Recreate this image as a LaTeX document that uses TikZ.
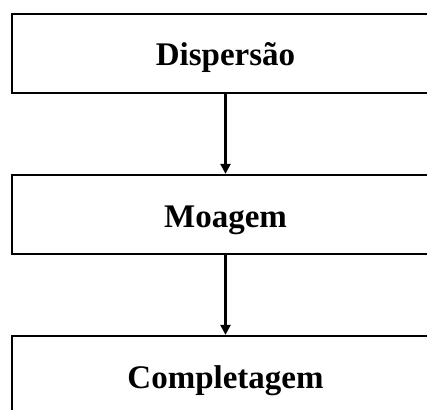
\documentclass[tikz,border=0pt]{standalone}
\usepackage{fontspec}
\setmainfont{Liberation Serif}
\usetikzlibrary{arrows.meta}
\begin{document}
\begin{tikzpicture}[x=1pt,y=1pt,
  stepbox/.style={draw=black,line width=2.3pt,minimum width=427pt,minimum height=79pt,inner sep=0pt,text height=25pt,text depth=0pt,font=\fontsize{33}{36}\selectfont\bfseries},
  flow/.style={line width=2.3pt,-{Triangle[length=10pt,width=10pt]}}]
\useasboundingbox (0,0) rectangle (427,-409);
\node[stepbox] (a) at (225.5,-53.5) {Dispersão};
\node[stepbox] (b) at (225.5,-214.5) {Moagem};
\node[stepbox] (c) at (225.5,-375.5) {Completagem};
\draw[flow] (a.south) -- (b.north);
\draw[flow] (b.south) -- (c.north);
\end{tikzpicture}
\end{document}
